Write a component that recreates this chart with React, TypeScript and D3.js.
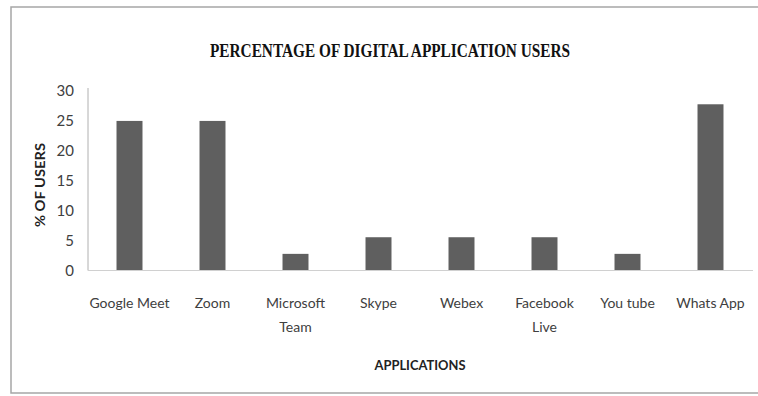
import React from "react";
import * as d3 from "d3";

const categories = ["Google Meet", "Zoom", "Microsoft Team", "Skype", "Webex", "Facebook Live", "You tube", "Whats App"];
const categoryLines = [["Google Meet"], ["Zoom"], ["Microsoft", "Team"], ["Skype"], ["Webex"], ["Facebook", "Live"], ["You tube"], ["Whats App"]];
const values = [25, 25, 2.78, 5.56, 5.56, 5.56, 2.78, 27.78];
const yTicks = [0, 5, 10, 15, 20, 25, 30];
const title = "PERCENTAGE OF DIGITAL APPLICATION USERS";
const xTitle = "APPLICATIONS";
const yTitle = "% OF USERS";

const W = 758;
const H = 396;

export default function App() {
  const x = d3
    .scaleBand<string>()
    .domain(categories)
    .range([88, 752])
    .paddingInner(0.687)
    .paddingOuter(0.3435);
  const y = d3.scaleLinear().domain([0, 30]).range([270.5, 91]);

  return (
    <svg
      width={W}
      height={H}
      style={{ position: "fixed", left: 0, top: 0, background: "#fff" }}
    >
      <rect x={0} y={0} width={W} height={H} fill="#fff" />
      {/* outer chart border */}
      <rect x={11} y={7} width={W + 10} height={386} fill="none" stroke="#a6a6a6" strokeWidth={1.5} />
      {/* title */}
      <text
        x={390}
        y={57}
        textAnchor="middle"
        fontFamily="'Liberation Serif', serif"
        fontWeight="bold"
        fontSize={18}
        textLength={360}
        lengthAdjust="spacingAndGlyphs"
        fill="#111"
      >
        {title}
      </text>
      {/* y ticks */}
      {yTicks.map((t) => (
        <text
          key={t}
          x={74}
          y={y(t)}
          dy="0.35em"
          textAnchor="end"
          fontFamily="Lato, sans-serif"
          fontSize={15}
          fill="#404040"
        >
          {t}
        </text>
      ))}
      {/* axes */}
      <line x1={88} x2={88} y1={y(30) - 3} y2={y(0)} stroke="#b0b0b0" strokeWidth={1} />
      {/* bars */}
      {values.map((v, i) => (
        <rect
          key={categories[i]}
          x={x(categories[i])}
          y={y(v)}
          width={x.bandwidth()}
          height={y(0) - y(v)}
          fill="#5f5f5f"
        />
      ))}
      <line x1={88} x2={753} y1={y(0)} y2={y(0)} stroke="#d0d0d0" strokeWidth={1} />
      {/* category labels */}
      {categoryLines.map((lines, i) => (
        <text
          key={categories[i]}
          x={(x(categories[i]) as number) + x.bandwidth() / 2}
          y={303}
          textAnchor="middle"
          fontFamily="Lato, sans-serif"
          fontSize={14}
          fill="#404040"
        >
          {lines.map((l, j) => (
            <tspan key={j} x={(x(categories[i]) as number) + x.bandwidth() / 2} dy={j === 0 ? "0.35em" : 24}>
              {l}
            </tspan>
          ))}
        </text>
      ))}
      {/* axis titles */}
      <text
        x={420}
        y={365}
        dy="0.35em"
        textAnchor="middle"
        fontFamily="Lato, sans-serif"
        fontWeight="bold"
        fontSize={14}
        textLength={91}
        lengthAdjust="spacingAndGlyphs"
        fill="#222"
      >
        {xTitle}
      </text>
      <text
        transform="translate(40,185) rotate(-90)"
        dy="0.35em"
        textAnchor="middle"
        fontFamily="Lato, sans-serif"
        fontWeight="bold"
        fontSize={14}
        textLength={84}
        lengthAdjust="spacingAndGlyphs"
        fill="#222"
      >
        {yTitle}
      </text>
    </svg>
  );
}
